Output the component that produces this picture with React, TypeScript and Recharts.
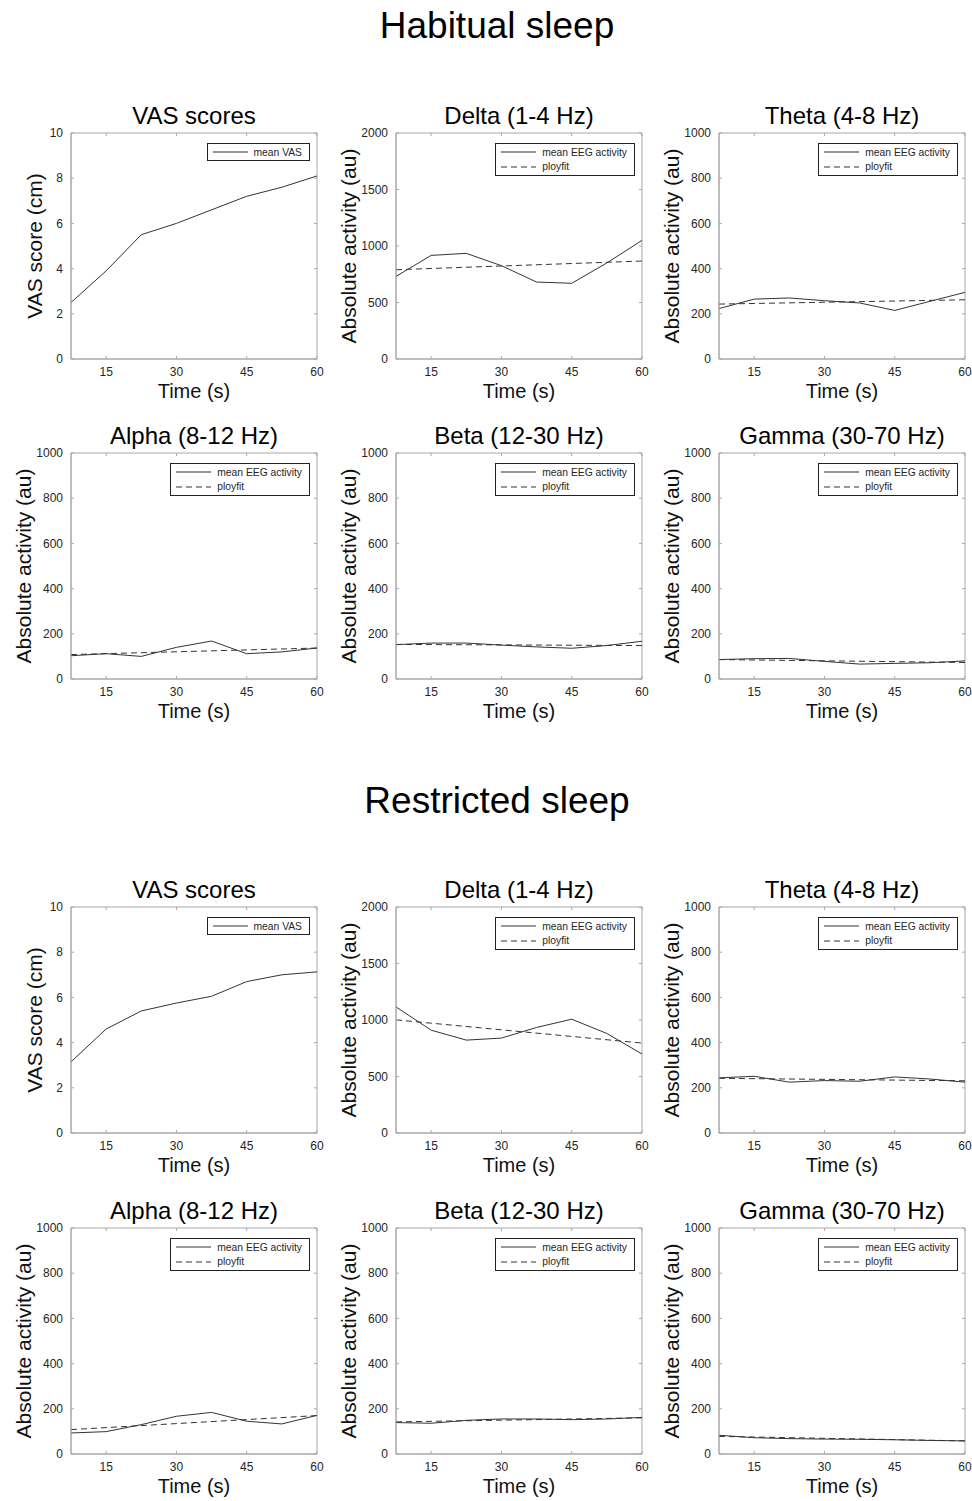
import React from 'react';
import { LineChart, Line, XAxis, YAxis, Legend, ReferenceArea, Label } from 'recharts';

// sample times (s) and the two ends of each ployfit line
const timePoints = [7.5, 15, 22.5, 30, 37.5, 45, 52.5, 60];
const fitTimes = [7.5, 60];
const xTicks = [15, 30, 45, 60];
const vasTicks = [0, 2, 4, 6, 8, 10];
const deltaTicks = [0, 500, 1000, 1500, 2000];
const bandTicks = [0, 200, 400, 600, 800, 1000];

// Habitual sleep
const habVas = [2.5, 3.9, 5.5, 6.0, 6.6, 7.2, 7.6, 8.1];
const habDelta = [731, 917, 935, 826, 681, 670, 850, 1050];
const habDeltaFit = [790, 867];
const habTheta = [223, 265, 270, 258, 248, 215, 255, 295];
const habThetaFit = [243, 262];
const habAlpha = [103, 112, 100, 140, 168, 112, 120, 137];
const habAlphaFit = [108, 137];
const habBeta = [152, 159, 159, 150, 142, 136, 148, 167];
const habBetaFit = [153, 148];
const habGamma = [86, 90, 91, 78, 66, 69, 72, 80];
const habGammaFit = [86, 73];

// Restricted sleep
const resVas = [3.15, 4.6, 5.4, 5.75, 6.05, 6.7, 7.0, 7.13];
const resDelta = [1116, 910, 822, 840, 934, 1007, 881, 699];
const resDeltaFit = [1001, 796];
const resTheta = [244, 251, 225, 232, 229, 248, 239, 225];
const resThetaFit = [242, 231];
const resAlpha = [93, 99, 130, 167, 184, 145, 133, 171];
const resAlphaFit = [108, 170];
const resBeta = [139, 136, 149, 155, 155, 152, 155, 162];
const resBetaFit = [142, 160];
const resGamma = [83, 72, 68, 66, 65, 63, 60, 58];
const resGammaFit = [78, 58];

const FONT = '"Liberation Sans", Arial, Helvetica, sans-serif';
const BOX = '#a8a8a8';
const INK = '#262626';
const LINE = '#333333';

const COLS = [71, 396, 719];
const ROWS = [133, 453, 907, 1228];
const PLOT_W = 246;
const PLOT_H = 226;
const M_LEFT = 10;
const Y_W = 60;
const M_TOP = 10;
const M_RIGHT = 10;
const X_H = 50;
const TICK_SIZE = 4;
const TICK_MARGIN = 4;

const ABS = 'Absolute activity (au)';
const EEG = 'mean EEG activity';

const panels = [
  { row: 0, col: 0, title: 'VAS scores', yLabel: 'VAS score (cm)', yMax: 10, yTicks: vasTicks, mean: habVas, fit: null, meanLabel: 'mean VAS' },
  { row: 0, col: 1, title: 'Delta (1-4 Hz)', yLabel: ABS, yMax: 2000, yTicks: deltaTicks, mean: habDelta, fit: habDeltaFit, meanLabel: EEG },
  { row: 0, col: 2, title: 'Theta (4-8 Hz)', yLabel: ABS, yMax: 1000, yTicks: bandTicks, mean: habTheta, fit: habThetaFit, meanLabel: EEG },
  { row: 1, col: 0, title: 'Alpha (8-12 Hz)', yLabel: ABS, yMax: 1000, yTicks: bandTicks, mean: habAlpha, fit: habAlphaFit, meanLabel: EEG },
  { row: 1, col: 1, title: 'Beta (12-30 Hz)', yLabel: ABS, yMax: 1000, yTicks: bandTicks, mean: habBeta, fit: habBetaFit, meanLabel: EEG },
  { row: 1, col: 2, title: 'Gamma (30-70 Hz)', yLabel: ABS, yMax: 1000, yTicks: bandTicks, mean: habGamma, fit: habGammaFit, meanLabel: EEG },
  { row: 2, col: 0, title: 'VAS scores', yLabel: 'VAS score (cm)', yMax: 10, yTicks: vasTicks, mean: resVas, fit: null, meanLabel: 'mean VAS' },
  { row: 2, col: 1, title: 'Delta (1-4 Hz)', yLabel: ABS, yMax: 2000, yTicks: deltaTicks, mean: resDelta, fit: resDeltaFit, meanLabel: EEG },
  { row: 2, col: 2, title: 'Theta (4-8 Hz)', yLabel: ABS, yMax: 1000, yTicks: bandTicks, mean: resTheta, fit: resThetaFit, meanLabel: EEG },
  { row: 3, col: 0, title: 'Alpha (8-12 Hz)', yLabel: ABS, yMax: 1000, yTicks: bandTicks, mean: resAlpha, fit: resAlphaFit, meanLabel: EEG },
  { row: 3, col: 1, title: 'Beta (12-30 Hz)', yLabel: ABS, yMax: 1000, yTicks: bandTicks, mean: resBeta, fit: resBetaFit, meanLabel: EEG },
  { row: 3, col: 2, title: 'Gamma (30-70 Hz)', yLabel: ABS, yMax: 1000, yTicks: bandTicks, mean: resGamma, fit: resGammaFit, meanLabel: EEG },
];

// x tick: label below plus small inward tick marks at bottom and top of the box
const XTick = (props: any) => {
  const { x, y, payload } = props;
  const axisY = y - TICK_SIZE - TICK_MARGIN;
  return (
    <g>
      <line x1={x} x2={x} y1={axisY} y2={axisY - 3} stroke={BOX} />
      <line x1={x} x2={x} y1={axisY - PLOT_H} y2={axisY - PLOT_H + 3} stroke={BOX} />
      <text x={x} y={y} dy="0.71em" textAnchor="middle" fontSize={12} fill={INK} fontFamily={FONT}>
        {payload.value}
      </text>
    </g>
  );
};

const YTick = (props: any) => {
  const { x, y, payload } = props;
  const axisX = x + TICK_SIZE + TICK_MARGIN;
  return (
    <g>
      <line x1={axisX} x2={axisX + 3} y1={y} y2={y} stroke={BOX} />
      <line x1={axisX + PLOT_W} x2={axisX + PLOT_W - 3} y1={y} y2={y} stroke={BOX} />
      <text x={x} y={y} dy="0.355em" textAnchor="end" fontSize={12} fill={INK} fontFamily={FONT}>
        {payload.value}
      </text>
    </g>
  );
};

function LegendBox({ items }: { items: { label: string; dashed: boolean }[] }) {
  return (
    <div
      style={{
        border: '1px solid #222',
        background: '#fff',
        padding: '1px 7px 1px 5px',
        fontFamily: FONT,
        fontSize: 10.3,
        color: INK,
        whiteSpace: 'nowrap',
      }}
    >
      {items.map((it) => (
        <div key={it.label} style={{ display: 'flex', alignItems: 'center', height: 14.4 }}>
          <svg width={35} height={6} style={{ marginRight: 6, display: 'block' }}>
            <line x1={0} x2={35} y1={3} y2={3} stroke={LINE} strokeWidth={1} strokeDasharray={it.dashed ? '6 4' : undefined} />
          </svg>
          <span>{it.label}</span>
        </div>
      ))}
    </div>
  );
}

function Panel({ p }: { p: (typeof panels)[number] }) {
  const plotLeft = COLS[p.col];
  const plotTop = ROWS[p.row];
  const meanData = timePoints.map((t, i) => ({ t, v: p.mean[i] }));
  const fitData = p.fit ? fitTimes.map((t, i) => ({ t, v: (p.fit as number[])[i] })) : null;
  const legendItems = [{ label: p.meanLabel, dashed: false }];
  if (fitData) legendItems.push({ label: 'ployfit', dashed: true });
  const yLabelOffset = p.yMax === 10 ? 24 : 13;

  return (
    <>
      <div
        style={{
          position: 'absolute',
          left: plotLeft - 40,
          width: PLOT_W + 80,
          top: plotTop - 29,
          textAlign: 'center',
          fontFamily: FONT,
          fontSize: 24,
          lineHeight: '24px',
          color: '#000',
        }}
      >
        {p.title}
      </div>
      <div style={{ position: 'absolute', left: plotLeft - M_LEFT - Y_W, top: plotTop - M_TOP }}>
        <LineChart
          width={M_LEFT + Y_W + PLOT_W + M_RIGHT}
          height={M_TOP + PLOT_H + X_H}
          margin={{ top: M_TOP, right: M_RIGHT, bottom: 0, left: M_LEFT }}
        >
          <XAxis
            type="number"
            dataKey="t"
            domain={[7.5, 60]}
            ticks={xTicks}
            interval={0}
            allowDataOverflow
            height={X_H}
            tickSize={TICK_SIZE}
            tickMargin={TICK_MARGIN}
            tickLine={false}
            tick={XTick}
            axisLine={{ stroke: BOX }}
          >
            <Label value="Time (s)" position="insideBottom" offset={11} style={{ fontSize: 20, fill: '#111', fontFamily: FONT }} />
          </XAxis>
          <YAxis
            type="number"
            domain={[0, p.yMax]}
            ticks={p.yTicks}
            interval={0}
            allowDataOverflow
            width={Y_W}
            tickSize={TICK_SIZE}
            tickMargin={TICK_MARGIN}
            tickLine={false}
            tick={YTick}
            axisLine={{ stroke: BOX }}
          >
            <Label
              value={p.yLabel}
              angle={-90}
              position="insideLeft"
              offset={yLabelOffset}
              style={{ textAnchor: 'middle', fontSize: 21, fill: '#111', fontFamily: FONT }}
            />
          </YAxis>
          <ReferenceArea x1={7.5} x2={60} y1={0} y2={p.yMax} fill="none" stroke={BOX} ifOverflow="visible" />
          <Line data={meanData} dataKey="v" type="linear" stroke={LINE} strokeWidth={1} dot={false} isAnimationActive={false} />
          {fitData && (
            <Line
              data={fitData}
              dataKey="v"
              type="linear"
              stroke={LINE}
              strokeWidth={1}
              strokeDasharray="6 4"
              dot={false}
              isAnimationActive={false}
            />
          )}
          <Legend
            layout="vertical"
            align="center"
            verticalAlign="middle"
            wrapperStyle={{ top: M_TOP + 10, right: M_RIGHT + 7, left: 'auto', width: 'auto' }}
            content={() => <LegendBox items={legendItems} />}
          />
        </LineChart>
      </div>
    </>
  );
}

const sectionTitle: React.CSSProperties = {
  position: 'absolute',
  left: 0,
  width: 994,
  textAlign: 'center',
  fontFamily: FONT,
  fontSize: 37,
  lineHeight: '37px',
  color: '#000',
};

export default function App() {
  return (
    <div style={{ position: 'absolute', left: 0, top: 0, width: 972, height: 1501, background: '#fff', overflow: 'hidden' }}>
      <div style={{ ...sectionTitle, top: 7 }}>Habitual sleep</div>
      <div style={{ ...sectionTitle, top: 782 }}>Restricted sleep</div>
      {panels.map((p, i) => (
        <Panel key={i} p={p} />
      ))}
    </div>
  );
}
